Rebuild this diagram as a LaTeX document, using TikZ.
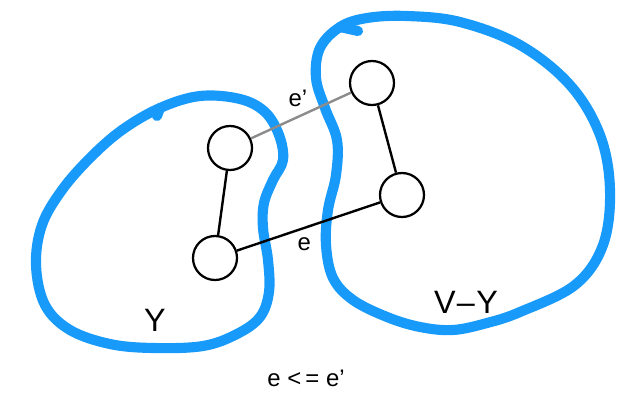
\documentclass[tikz,border=0pt]{standalone}
\usepackage{fontspec}
\setmainfont{Liberation Sans}
\definecolor{setblue}{RGB}{24,154,250}
\definecolor{edgegray}{RGB}{140,140,140}
\begin{document}
\begin{tikzpicture}[x=0.025cm,y=-0.025cm]
		\tikzstyle{vertex}=[circle,draw=black,line width=1.6pt,fill=white,minimum size=1.1cm,inner sep=0pt]
		\tikzstyle{edge}=[draw, line width=1.7pt]
		\tikzstyle{blob}=[draw=setblue, line width=7.2pt, line cap=round, line join=round]
		\useasboundingbox (0,0) rectangle (640,402);
		\begin{scope}
			% the two sets
			\path[blob] plot[smooth cycle, tension=0.6] coordinates {(160,108) (200,96) (240,99) (265,112) (279,135) (283,160) (273,180) (264,203) (263,228) (268,260) (269,292) (260,317) (237,334) (203,346) (153,348) (110,344) (70,330) (45,305) (36,265) (42,225) (62,190) (90,158) (122,130)};
			\path[blob] (160,108) -- (157,116);
			\path[blob] plot[smooth cycle, tension=0.6] coordinates {(340,27) (367,18) (407,16) (460,22) (520,45) (570,85) (600,135) (610,190) (603,245) (575,285) (520,312) (487,323) (453,330) (420,327) (387,317) (353,300) (333,278) (326,245) (328,210) (336,175) (337,140) (325,108) (316,78) (320,48)};
			\path[blob] (340,27) -- (358,31);
			% vertices
			\node [vertex] (a) at (230,148) {};
			\node [vertex] (b) at (215,258) {};
			\node [vertex] (c) at (372,83) {};
			\node [vertex] (d) at (402,195) {};
			\path[edge] (a) edge (b);
			\path[edge] (c) edge (d);
			\path[edge] (b) edge node[below=3pt, pos=0.47, font=\fontsize{17}{20}\selectfont] {e} (d);
			\path[edge, draw=edgegray] (a) edge [draw=edgegray] node[above=3pt, pos=0.47, font=\fontsize{17}{20}\selectfont] {e’} (c);
			% labels
			\node [font=\fontsize{23}{26}\selectfont] (lY) at (155,320) {Y};
			\node [font=\fontsize{23}{26}\selectfont] (lVY) at (466,302) {V{\kern1pt}–{\kern1pt}Y};
			\node [font=\fontsize{17}{20}\selectfont] (rule) at (306,378) {e <{\kern3pt}= e’};
		\end{scope}
\end{tikzpicture}
\end{document}
